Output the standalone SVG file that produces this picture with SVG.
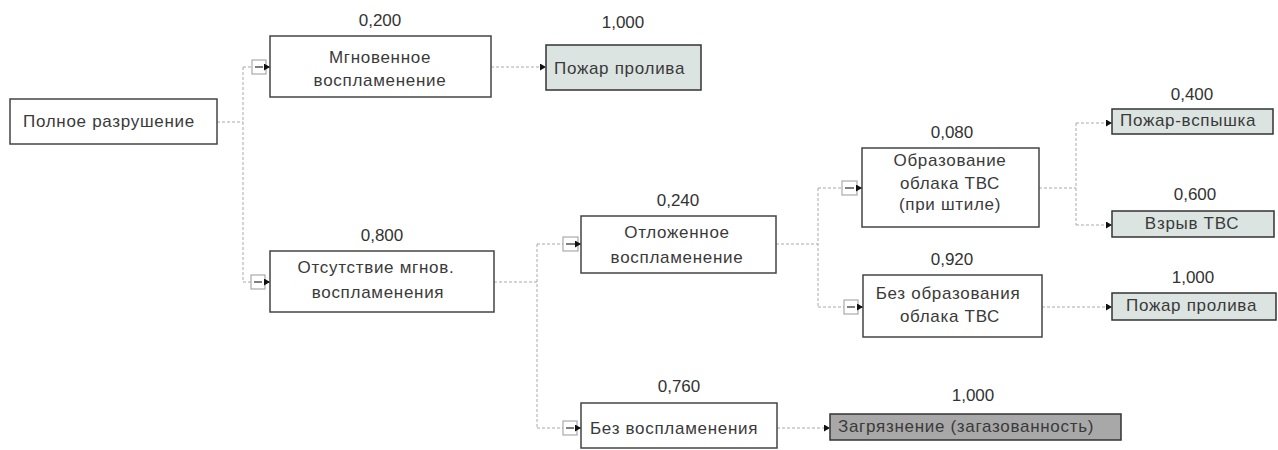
<svg xmlns="http://www.w3.org/2000/svg" width="1278" height="450" viewBox="0 0 1278 450">
<style>
  text { font-family: "Liberation Sans", Arial, sans-serif; font-size: 17px; fill: #3a3a3a; letter-spacing: 0.7px; }
  .num { fill: #333; text-anchor: middle; letter-spacing: 0; }
  .c { text-anchor: middle; }
  .node { fill: #ffffff; stroke: #444; stroke-width: 1.5; }
  .leaf { fill: #dce4e1; stroke: #333; stroke-width: 1.5; }
  .leafdark { fill: #a8a8a8; stroke: #333; stroke-width: 1.5; }
  .conn { fill: none; stroke: #aaaaaa; stroke-width: 1; stroke-dasharray: 3 2; }
  .tog { fill: #ffffff; stroke: #999; stroke-width: 1; }
  .minus { stroke: #555; stroke-width: 1.5; }
  .tick { fill: none; stroke: #222; stroke-width: 1; }
</style>
<defs>
  <marker id="arr" viewBox="0 0 6 7" markerWidth="6" markerHeight="7" refX="6" refY="3.5" markerUnits="userSpaceOnUse" orient="auto">
    <path d="M0,0 L6,3.5 L0,7 z" fill="#111"/>
  </marker>
</defs>

<g id="connectors">
  <path class="conn" d="M217,122 H243 M243,67 V282 M243,67 H252 M243,282 H251"/>
  <path class="conn" d="M491,67 H546" marker-end="url(#arr)"/>
  <path class="conn" d="M494,282 H537 M537,244 V428 M537,244 H563 M537,428 H563"/>
  <path class="conn" d="M776,244 H818 M818,188 V307 M818,188 H842 M818,307 H844"/>
  <path class="conn" d="M1039,188 H1076 M1076,123 V225"/>
  <path class="conn" d="M1076,123 H1112" marker-end="url(#arr)"/>
  <path class="conn" d="M1076,225 H1112" marker-end="url(#arr)"/>
  <path class="conn" d="M1042,307 H1112" marker-end="url(#arr)"/>
  <path class="conn" d="M777,428 H830" marker-end="url(#arr)"/>
</g>

<g id="root">
  <rect class="node" x="10" y="99" width="207" height="45"/>
  <text x="23" y="127">Полное разрушение</text>
</g>

<g id="n-instant">
  <text class="num" x="380" y="26">0,200</text>
  <rect class="tog" x="252" y="60" width="14" height="14"/>
  <line class="minus" x1="255" y1="67" x2="263" y2="67"/>
  <path class="tick" d="M266,67 H270" marker-end="url(#arr)"/>
  <rect class="node" x="270" y="36" width="221" height="61"/>
  <text class="c" x="380" y="63">Мгновенное</text>
  <text class="c" x="380" y="86">воспламенение</text>
</g>

<g id="l-pool1">
  <text class="num" x="623" y="28">1,000</text>
  <rect class="leaf" x="546" y="45" width="155" height="45"/>
  <text x="554" y="74">Пожар пролива</text>
</g>

<g id="n-noinstant">
  <text class="num" x="382" y="241">0,800</text>
  <rect class="tog" x="251" y="275" width="14" height="14"/>
  <line class="minus" x1="254" y1="282" x2="262" y2="282"/>
  <path class="tick" d="M265,282 H270" marker-end="url(#arr)"/>
  <rect class="node" x="270" y="251" width="224" height="61"/>
  <text class="c" x="376" y="273">Отсутствие мгнов.</text>
  <text class="c" x="378" y="298">воспламенения</text>
</g>

<g id="n-delayed">
  <text class="num" x="678" y="206">0,240</text>
  <rect class="tog" x="563" y="237" width="15" height="14"/>
  <line class="minus" x1="566" y1="244" x2="575" y2="244"/>
  <path class="tick" d="M578,244 H581" marker-end="url(#arr)"/>
  <rect class="node" x="581" y="216" width="195" height="57"/>
  <text class="c" x="677" y="238">Отложенное</text>
  <text class="c" x="677" y="263">воспламенение</text>
</g>

<g id="n-cloud">
  <text class="num" x="952" y="138">0,080</text>
  <rect class="tog" x="842" y="181" width="15" height="14"/>
  <line class="minus" x1="845" y1="188" x2="854" y2="188"/>
  <path class="tick" d="M857,188 H862" marker-end="url(#arr)"/>
  <rect class="node" x="862" y="148" width="177" height="79"/>
  <text class="c" x="950" y="166">Образование</text>
  <text class="c" x="950" y="189">облака ТВС</text>
  <text class="c" x="950" y="210">(при штиле)</text>
</g>

<g id="l-flash">
  <text class="num" x="1192" y="100">0,400</text>
  <rect class="leaf" x="1112" y="109" width="161" height="25"/>
  <text x="1120" y="126">Пожар-вспышка</text>
</g>

<g id="l-explosion">
  <text class="num" x="1195" y="200">0,600</text>
  <rect class="leaf" x="1112" y="211" width="162" height="26"/>
  <text class="c" x="1192" y="229">Взрыв ТВС</text>
</g>

<g id="n-nocloud">
  <text class="num" x="952" y="265">0,920</text>
  <rect class="tog" x="844" y="300" width="14" height="14"/>
  <line class="minus" x1="847" y1="307" x2="855" y2="307"/>
  <path class="tick" d="M858,307 H863" marker-end="url(#arr)"/>
  <rect class="node" x="863" y="275" width="179" height="62"/>
  <text class="c" x="948" y="299">Без образования</text>
  <text class="c" x="950" y="322">облака ТВС</text>
</g>

<g id="l-pool2">
  <text class="num" x="1193" y="283">1,000</text>
  <rect class="leaf" x="1112" y="293" width="164" height="27"/>
  <text x="1126" y="311">Пожар пролива</text>
</g>

<g id="n-noignition">
  <text class="num" x="679" y="392">0,760</text>
  <rect class="tog" x="563" y="421" width="14" height="14"/>
  <line class="minus" x1="566" y1="428" x2="574" y2="428"/>
  <path class="tick" d="M577,428 H581" marker-end="url(#arr)"/>
  <rect class="node" x="581" y="403" width="196" height="45"/>
  <text x="590" y="434">Без воспламенения</text>
</g>

<g id="l-contam">
  <text class="num" x="973" y="401">1,000</text>
  <rect class="leafdark" x="830" y="414" width="291" height="26"/>
  <text x="838" y="432">Загрязнение (загазованность)</text>
</g>
</svg>
